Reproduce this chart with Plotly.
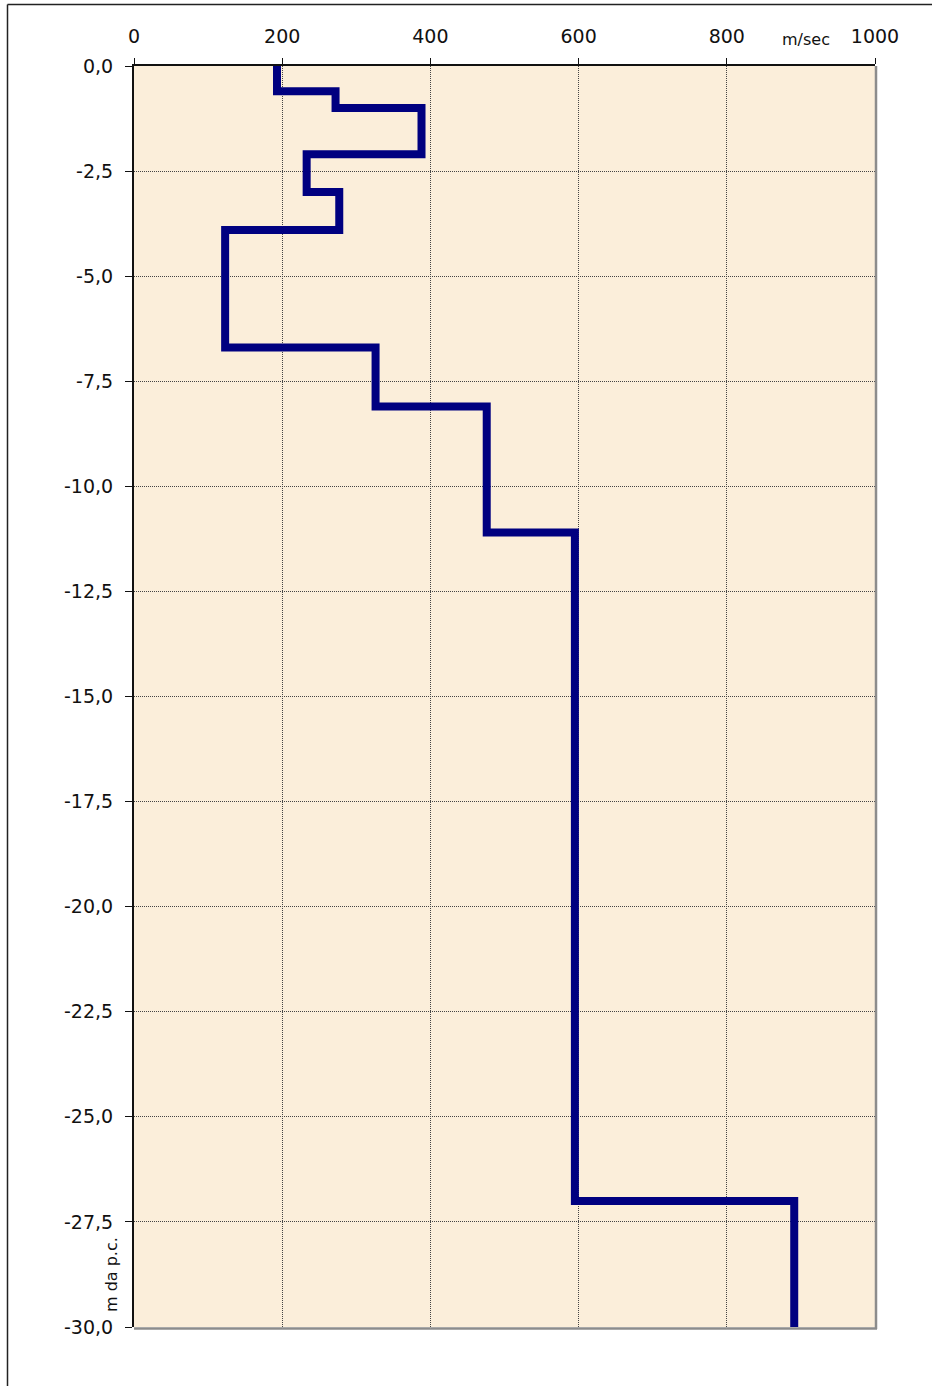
import plotly.graph_objects as go

# Layer data (depth in m from ground level, shear-wave velocity in m/sec)
layer_tops = [0.0, -0.6, -1.0, -2.1, -3.0, -3.9, -6.7, -8.1, -11.1, -27.0]
layer_bottoms = [-0.6, -1.0, -2.1, -3.0, -3.9, -6.7, -8.1, -11.1, -27.0, -30.0]
velocities = [193, 272, 388, 233, 277, 123, 326, 476, 595, 891]

x_tick_vals = [0, 200, 400, 600, 800, 1000]
x_tick_text = ["0", "200", "400", "600", "800", "1000"]
y_tick_vals = [0, -2.5, -5, -7.5, -10, -12.5, -15, -17.5, -20, -22.5, -25, -27.5, -30]
y_tick_text = ["0,0", "-2,5", "-5,0", "-7,5", "-10,0", "-12,5", "-15,0", "-17,5",
               "-20,0", "-22,5", "-25,0", "-27,5", "-30,0"]

xs, ys = [], []
for v, t, b in zip(velocities, layer_tops, layer_bottoms):
    xs += [v, v]
    ys += [t, b]

FONT = "DejaVu Sans, Verdana, sans-serif"

fig = go.Figure()
fig.add_trace(go.Scatter(
    x=xs, y=ys, mode="lines",
    line=dict(color="#000080", width=8),
    hoverinfo="skip", showlegend=False,
))

W, H = 932, 1386
L, R, T, B = 134, 57, 66, 59
pw, ph = W - L - R, H - T - B

def px_x(p):
    return (p - L) / pw

def px_y(p):
    return 1 - (p - T) / ph

shapes = [
    # outer chart border (left and top visible)
    dict(type="line", xref="paper", yref="paper", x0=px_x(7.5), x1=px_x(7.5),
         y0=px_y(4.5), y1=px_y(1400), line=dict(color="#222", width=1.5)),
    dict(type="line", xref="paper", yref="paper", x0=px_x(7.5), x1=px_x(940),
         y0=px_y(4.5), y1=px_y(4.5), line=dict(color="#222", width=1.5)),
    # plot-area right and bottom grey edges
    dict(type="line", xref="paper", yref="paper", x0=px_x(876), x1=px_x(876),
         y0=px_y(1329), y1=1, line=dict(color="#8c8c8c", width=2.5)),
    dict(type="line", xref="paper", yref="paper", x0=0, x1=px_x(877),
         y0=px_y(1328.5), y1=px_y(1328.5), line=dict(color="#8c8c8c", width=2.5)),
]

fig.update_layout(
    width=W, height=H,
    margin=dict(l=L, r=R, t=T, b=B, pad=0),
    paper_bgcolor="white",
    plot_bgcolor="#FBEEDA",
    font=dict(family=FONT, size=19, color="#111"),
    shapes=shapes,
    xaxis=dict(
        side="top", range=[0, 1000], tickvals=x_tick_vals, ticktext=x_tick_text,
        showgrid=True, gridcolor="#444", gridwidth=1, griddash="1px,1px",
        showline=True, linecolor="#111", linewidth=1.5,
        ticks="outside", ticklen=6, tickcolor="#111", tickwidth=1,
        ticklabelstandoff=8, zeroline=False,
    ),
    yaxis=dict(
        range=[-30, 0], tickvals=y_tick_vals, ticktext=y_tick_text,
        showgrid=True, gridcolor="#444", gridwidth=1, griddash="1px,1px",
        showline=True, linecolor="#111", linewidth=2,
        ticks="outside", ticklen=7, tickcolor="#111", tickwidth=1,
        ticklabelstandoff=8, zeroline=False,
    ),
    annotations=[
        dict(text="m/sec", xref="paper", yref="paper", x=px_x(806), y=px_y(39),
             showarrow=False, font=dict(family=FONT, size=16, color="#111"),
             xanchor="center", yanchor="middle"),
        dict(text="m da p.c.", xref="paper", yref="paper", x=px_x(111), y=px_y(1275),
             showarrow=False, textangle=-90, font=dict(family=FONT, size=16, color="#111"),
             xanchor="center", yanchor="middle"),
    ],
)

fig.write_html("out.html", config={"displayModeBar": False},
               post_script="document.body.style.margin='0px';")
